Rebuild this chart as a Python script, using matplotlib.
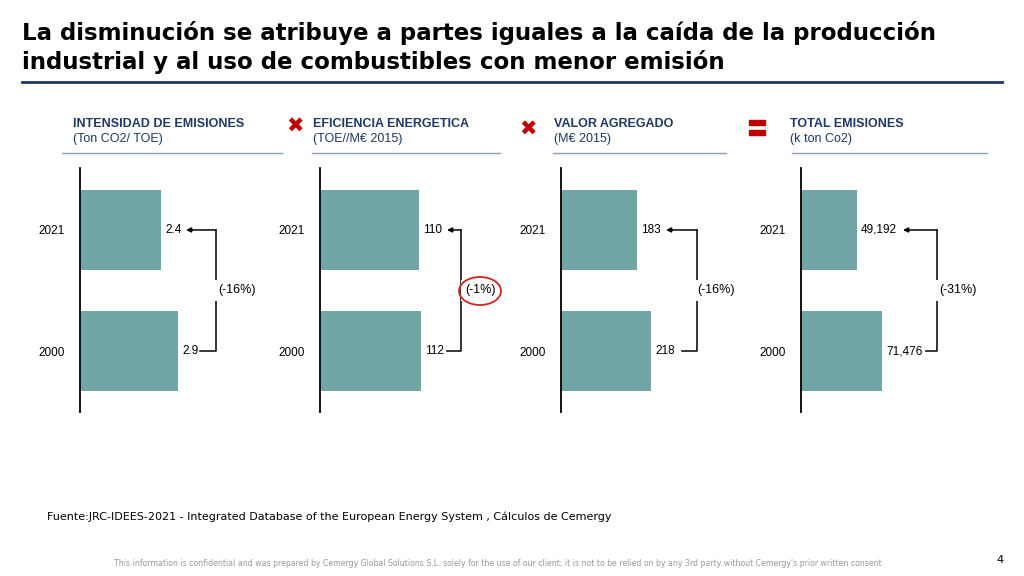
import matplotlib.pyplot as plt
from matplotlib.patches import Ellipse
import numpy as np

years = ["2000", "2021"]
titles = ["INTENSIDAD DE EMISIONES", "EFICIENCIA ENERGETICA", "VALOR AGREGADO", "TOTAL EMISIONES"]
units = ["(Ton CO2/ TOE)", "(TOE//M€ 2015)", "(M€ 2015)", "(k ton Co2)"]
v2000 = [2.9, 112, 218, 71476]
v2021 = [2.4, 110, 183, 49192]
labels2000 = ["2.9", "112", "218", "71,476"]
labels2021 = ["2.4", "110", "183", "49,192"]
changes = ["(-16%)", "(-1%)", "(-16%)", "(-31%)"]

W, H = 1024, 576
bar_col = "#72A5A6"
navy = "#1F3864"
red = "#C00000"
arial = "Liberation Sans"

fig = plt.figure(figsize=(W / 100, H / 100), dpi=100)

def px(x, y):
    return x / W, 1 - y / H

def t(x, y, s, **kw):
    fig.text(*px(x, y), s, **kw)

def hline(x0, x1, y, **kw):
    fig.add_artist(plt.Line2D([x0 / W, x1 / W], [1 - y / H, 1 - y / H], **kw))

# title
t(22, 33, "La disminución se atribuye a partes iguales a la caída de la producción",
  fontsize=16.5, fontweight="bold", va="center")
t(22, 62, "industrial y al uso de combustibles con menor emisión",
  fontsize=16.5, fontweight="bold", va="center")
hline(22, 1002, 82, color=navy, lw=2)

axis_x = [80, 320, 561, 801]
xlims = [5.93, 222, 482, 175700]
bracket_x = [216, 461, 697, 937]
tip_x = [186, 447, 666, 903]
low_x = [200, 447, 682, 926]
head_x = [73, 313, 554, 790]
rule = [(62, 282), (312, 500), (553, 726), (792, 987)]

for i in range(4):
    ax = fig.add_axes([axis_x[i] / W, (H - 412) / H, 200 / W, 244 / H])
    ax.barh([0, 1], [v2000[i], v2021[i]], height=0.66, color=bar_col)
    ax.set_xlim(0, xlims[i])
    ax.set_ylim(-0.504, 1.512)
    for s in ["top", "right", "bottom"]:
        ax.spines[s].set_visible(False)
    ax.spines["left"].set_linewidth(1.3)
    ax.set_xticks([])
    ax.set_yticks([0, 1])
    ax.set_yticklabels(years, fontsize=8.5, family=arial)
    ax.tick_params(axis="y", length=0, pad=11)
    ax.patch.set_alpha(0)
    tr = ax.get_yaxis_transform()
    f = lambda p: (p - axis_x[i]) / 200
    for j, (v, lab) in enumerate([(v2000[i], labels2000[i]), (v2021[i], labels2021[i])]):
        ax.annotate(lab, (v, j), xytext=(3, 0), textcoords="offset points",
                    fontsize=8.5, family=arial, va="center", ha="left")
    # bracket with arrow to the 2021 value
    bx = f(bracket_x[i])
    ax.plot([f(low_x[i]), bx, bx], [0, 0, 1], color="black", lw=1.1,
            transform=tr, clip_on=False)
    ax.annotate("", xy=(f(tip_x[i]), 1), xytext=(bx, 1),
                xycoords=tr, textcoords=tr,
                arrowprops=dict(arrowstyle="-|>", color="black", lw=1.1,
                                mutation_scale=7, shrinkA=0, shrinkB=0))
    lx = f([237, 480, 716, 958][i])
    ax.text(lx, 0.5, changes[i], transform=tr, fontsize=9, family=arial,
            ha="center", va="center",
            bbox=dict(facecolor="white", edgecolor="none", pad=3), clip_on=False)
    t(head_x[i], 124, titles[i], fontsize=9, fontweight="bold", color=navy,
      va="center", family=arial)
    t(head_x[i], 139, units[i], fontsize=9, color=navy, va="center", family=arial)
    hline(rule[i][0], rule[i][1], 153, color="#8EA0B5", lw=1)

# icons
t(295, 127, "✖", fontsize=15, color=red, ha="center", va="center")
t(528, 130, "✖", fontsize=15, color=red, ha="center", va="center")
fig.add_artist(plt.Rectangle(px(749, 125), 16 / W, 5 / H, color=red))
fig.add_artist(plt.Rectangle(px(749, 135), 16 / W, 5 / H, color=red))

# red circle
fig.add_artist(Ellipse(px(480, 291), 42 / W, 28 / H, fill=False, edgecolor="#D42020", lw=1.3))

t(47, 517, "Fuente:JRC-IDEES-2021 - Integrated Database of the European Energy System , Cálculos de Cemergy",
  fontsize=8, va="center")
t(498, 563, "This information is confidential and was prepared by Cemergy Global Solutions S.L. solely for the use of our client; it is not to be relied on by any 3rd party without Cemergy's prior written consent",
  fontsize=5.6, color="#999999", ha="center", va="center")
t(1000, 560, "4", fontsize=8, ha="center", va="center")

fig.savefig("out.png", dpi=100)
